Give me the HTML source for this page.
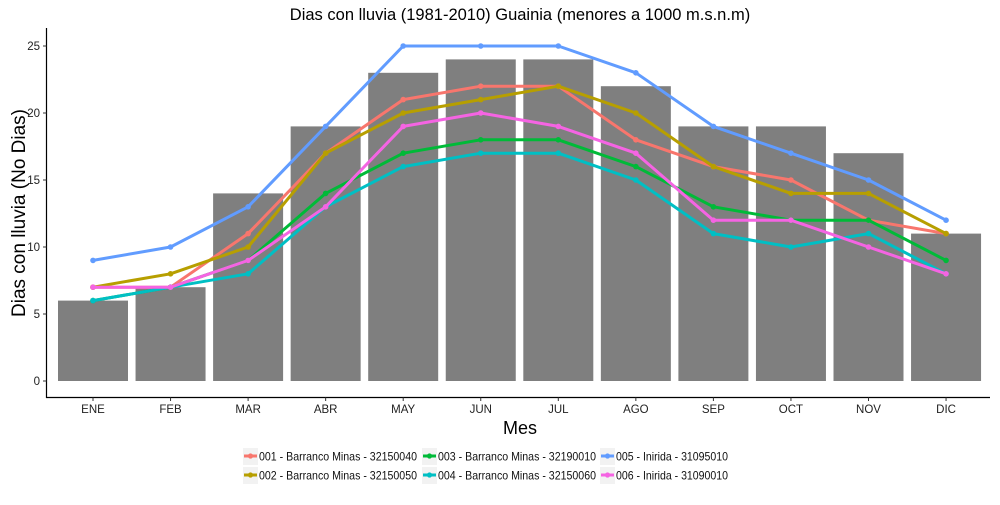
<!DOCTYPE html>
<html><head><meta charset="utf-8"><style>
body{margin:0;background:#fff;}
svg text{font-family:"Liberation Sans",sans-serif;}
</style></head><body>
<svg id="chart" width="1000" height="500" xmlns="http://www.w3.org/2000/svg">
<text x="520" y="20" font-size="16.5" text-anchor="middle" fill="#000">Dias con lluvia (1981-2010) Guainia (menores a 1000 m.s.n.m)</text>
<text transform="translate(25,213) rotate(-90)" font-size="19" text-anchor="middle" fill="#000">Dias con lluvia (No Dias)</text>
<text x="520" y="434" font-size="18" text-anchor="middle" fill="#000">Mes</text>
<g id="bars"></g><g id="lines"></g><g id="axes"></g><g id="legend"></g>
</svg>
<script>
const months=["ENE","FEB","MAR","ABR","MAY","JUN","JUL","AGO","SEP","OCT","NOV","DIC"];
const barValues=[6,7,14,19,23,24,24,22,19,19,17,11];
const s001=[7,7,11,17,21,22,22,18,16,15,12,11];
const s002=[7,8,10,17,20,21,22,20,16,14,14,11];
const s003=[6,7,9,14,17,18,18,16,13,12,12,9];
const s004=[6,7,8,13,16,17,17,15,11,10,11,8];
const s005=[9,10,13,19,25,25,25,23,19,17,15,12];
const s006=[7,7,9,13,19,20,19,17,12,12,10,8];
const seriesNames=["001 - Barranco Minas - 32150040","002 - Barranco Minas - 32150050","003 - Barranco Minas - 32190010","004 - Barranco Minas - 32150060","005 - Inirida - 31095010","006 - Inirida - 31090010"];
const yTicks=[0,5,10,15,20,25];
const series=[s001,s002,s003,s004,s005,s006];
const colors=["#F8766D","#B79F00","#00BA38","#00BFC4","#619CFF","#F564E3"];
const NS="http://www.w3.org/2000/svg";
const x=i=>93+i*77.55;
const y=v=>381-v*13.4;
function mk(tag,attrs,parent){const e=document.createElementNS(NS,tag);for(const k in attrs)e.setAttribute(k,attrs[k]);document.getElementById(parent).appendChild(e);return e;}
barValues.forEach((v,i)=>{
 const r=mk("rect",{x:x(i)-35,y:y(v),width:70,height:y(0)-y(v),fill:"#7F7F7F"},"bars");
 
 
});
series.forEach((s,k)=>{
 const p=mk("polyline",{points:s.map((v,i)=>x(i)+","+y(v)).join(" "),fill:"none",stroke:colors[k],"stroke-width":3,"stroke-linejoin":"round"},"lines");
 
 
 s.forEach((v,i)=>{
  const c=mk("circle",{cx:x(i),cy:y(v),r:2.8,fill:colors[k]},"lines");
  
  
 });
});
const a1=mk("line",{x1:46.5,y1:28,x2:46.5,y2:398,stroke:"#000","stroke-width":1.2},"axes");


const a2=mk("line",{x1:46,y1:397.5,x2:990,y2:397.5,stroke:"#000","stroke-width":1.2},"axes");


yTicks.forEach(t=>{
 mk("line",{x1:43,y1:y(t),x2:46.5,y2:y(t),stroke:"#333"},"axes");
 const tx=mk("text",{x:40,y:y(t)+4,"font-size":11.5,"text-anchor":"end",fill:"#222"},"axes");
 tx.textContent=t;
 
 
});
months.forEach((m,i)=>{
 mk("line",{x1:x(i),y1:397.5,x2:x(i),y2:401,stroke:"#333"},"axes");
 const tx=mk("text",{x:x(i),y:413,"font-size":11.5,"text-anchor":"middle",fill:"#222"},"axes");
 tx.textContent=m;
 
 
});
const lx=[243,422,600], tl=[158,158,112], ly=[456,475];
const orderGrid=[[0,1],[2,3],[4,5]];
for(let col=0;col<3;col++){for(let row=0;row<2;row++){
 const order=orderGrid[col][row];
 const X=lx[col], Y=ly[row];
 mk("rect",{x:X,y:Y-8,width:15,height:17,fill:"#F2F2F2"},"legend");
 mk("line",{x1:X+1,y1:Y,x2:X+14,y2:Y,stroke:colors[order],"stroke-width":3},"legend");
 mk("circle",{cx:X+7.5,cy:Y,r:2.6,fill:colors[order]},"legend");
 const t=mk("text",{x:X+16,y:Y+4.5,"font-size":12,fill:"#111",textLength:tl[col],lengthAdjust:"spacingAndGlyphs"},"legend");
 t.textContent=seriesNames[order];
 
 
}}
</script>
</body></html>
